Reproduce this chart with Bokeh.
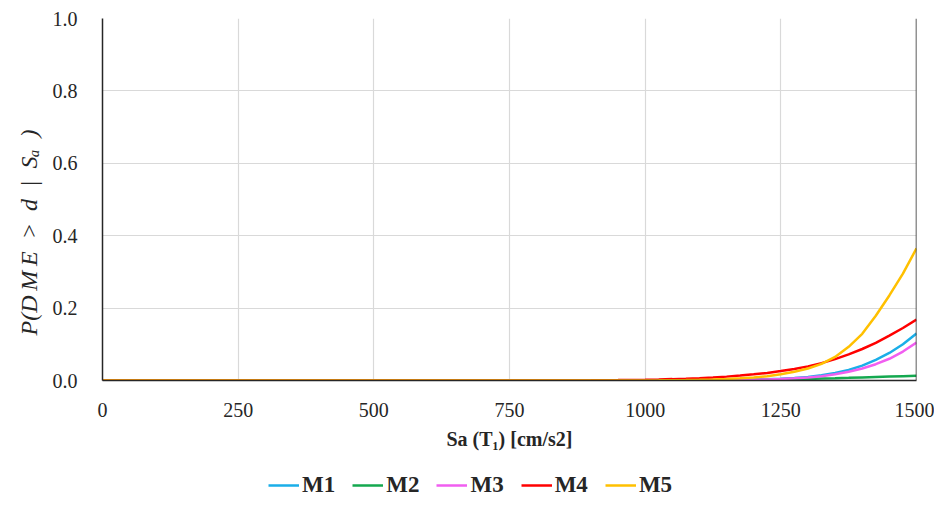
from bokeh.plotting import figure
from bokeh.layouts import column
from bokeh.models import Range1d, Legend, LegendItem, Span, FixedTicker, CustomJSTickFormatter
from bokeh.embed import file_html
from bokeh.resources import INLINE

sa = [0, 50, 100, 150, 200, 250, 300, 350, 400, 450, 500, 550, 600, 650, 700, 750,
      800, 850, 900, 950,
      1000, 1025, 1050, 1075, 1100, 1125, 1150, 1175, 1200, 1225, 1250,
      1275, 1300, 1325, 1350, 1375, 1400, 1425, 1450, 1475, 1500]

m1 = [0]*21 + [0.0001, 0.0002, 0.0003, 0.0005, 0.0008, 0.0012, 0.0018, 0.0025, 0.0035, 0.005,
               0.007, 0.010, 0.0145, 0.021, 0.029, 0.041, 0.057, 0.076, 0.100, 0.130]
m2 = [0]*20 + [0.0001, 0.0002, 0.0003, 0.0004, 0.0006, 0.0008, 0.0010, 0.0013, 0.0017, 0.0022, 0.0028,
               0.0035, 0.0043, 0.0052, 0.0062, 0.0073, 0.0085, 0.0097, 0.0108, 0.0119, 0.013]
m3 = [0]*21 + [0.0001, 0.0001, 0.0002, 0.0004, 0.0006, 0.0010, 0.0014, 0.0020, 0.0030, 0.0042,
               0.006, 0.0085, 0.012, 0.017, 0.024, 0.033, 0.045, 0.060, 0.080, 0.105]
m4 = [0]*16 + [0.0001, 0.0003, 0.0006, 0.0012,
               0.0022, 0.0029, 0.0038, 0.0050, 0.0065, 0.0084, 0.0107, 0.0135, 0.017, 0.021, 0.026,
               0.032, 0.039, 0.048, 0.059, 0.072, 0.087, 0.104, 0.124, 0.145, 0.168]
m5 = [0]*20 + [0.0003, 0.0005, 0.0008, 0.0012, 0.0018, 0.0027, 0.004, 0.006, 0.0085, 0.012, 0.017,
               0.024, 0.033, 0.046, 0.065, 0.093, 0.129, 0.179, 0.235, 0.295, 0.365]

names = ["M1", "M2", "M3", "M4", "M5"]
series = [m1, m2, m3, m4, m5]
colors = ["#1aaee8", "#14a84f", "#f15ef0", "#ff0000", "#ffc000"]

x_ticks = [0, 250, 500, 750, 1000, 1250, 1500]
y_ticks = [0.0, 0.2, 0.4, 0.6, 0.8, 1.0]

FONT = "Liberation Serif"

p = figure(width=934, height=468, output_backend="svg", toolbar_location=None,
           x_range=Range1d(0, 1500), y_range=Range1d(0, 1))
p.min_border_left = 102
p.min_border_right = 18
p.min_border_top = 18
p.min_border_bottom = 88
p.outline_line_color = None

p.xaxis.ticker = FixedTicker(ticks=x_ticks)
p.yaxis.ticker = FixedTicker(ticks=y_ticks)
p.yaxis.formatter = CustomJSTickFormatter(code="return tick.toFixed(1);")

for ax in (p.xaxis, p.yaxis):
    ax.major_tick_line_color = None
    ax.minor_tick_line_color = None
    ax.axis_line_color = "#262626"
    ax.axis_line_width = 1.5
    ax.major_label_text_font = FONT
    ax.major_label_text_font_size = "20px"
    ax.major_label_text_color = "#262626"
    ax.axis_label_text_font = FONT
    ax.axis_label_text_font_size = "20px"
    ax.axis_label_text_color = "#262626"

p.xaxis.major_label_standoff = 16
p.yaxis.major_label_standoff = 19
p.xaxis.axis_label = "Sa (T\u2081) [cm/s2]"
p.xaxis.axis_label_text_font_style = "bold"
p.xaxis.axis_label_standoff = 8
p.yaxis.axis_label = ("P(D\u2009M\u2009E\u2002>\u2002d\u2002|\u2002S\u2090\u2002)"
                      + "\u00a0" * 11)
p.yaxis.axis_label_text_font_style = "italic"
p.yaxis.axis_label_text_font_size = "24px"
p.yaxis.axis_label_standoff = 8

p.grid.grid_line_color = "#d9d9d9"
p.grid.grid_line_width = 1.2

p.add_layout(Span(location=1500, dimension="height", line_color="#262626", line_width=1.5))

for s, c in zip(series, colors):
    p.line(sa, s, line_color=c, line_width=2.5)

# legend strip as a separate figure below the chart
lg = figure(width=934, height=30, output_backend="svg", toolbar_location=None,
            x_range=Range1d(0, 1), y_range=Range1d(0, 1))
lg.axis.visible = False
lg.grid.visible = False
lg.outline_line_color = None
lg.min_border = 0
items = []
for n, c in zip(names, colors):
    r = lg.line([float("nan")], [float("nan")], line_color=c, line_width=2.5)
    items.append(LegendItem(label=n, renderers=[r]))

legend = Legend(items=items, orientation="horizontal", location=(166, 0))
legend.label_text_font = FONT
legend.label_text_font_size = "23px"
legend.label_text_font_style = "bold"
legend.label_text_color = "#262626"
legend.border_line_color = None
legend.background_fill_alpha = 0
legend.glyph_width = 31
legend.glyph_height = 22
legend.label_height = 22
legend.spacing = 17
legend.label_standoff = 3
legend.padding = 2
legend.margin = 0
lg.add_layout(legend, "center")

open("out.html", "w").write(file_html(column(p, lg, spacing=0), INLINE))
